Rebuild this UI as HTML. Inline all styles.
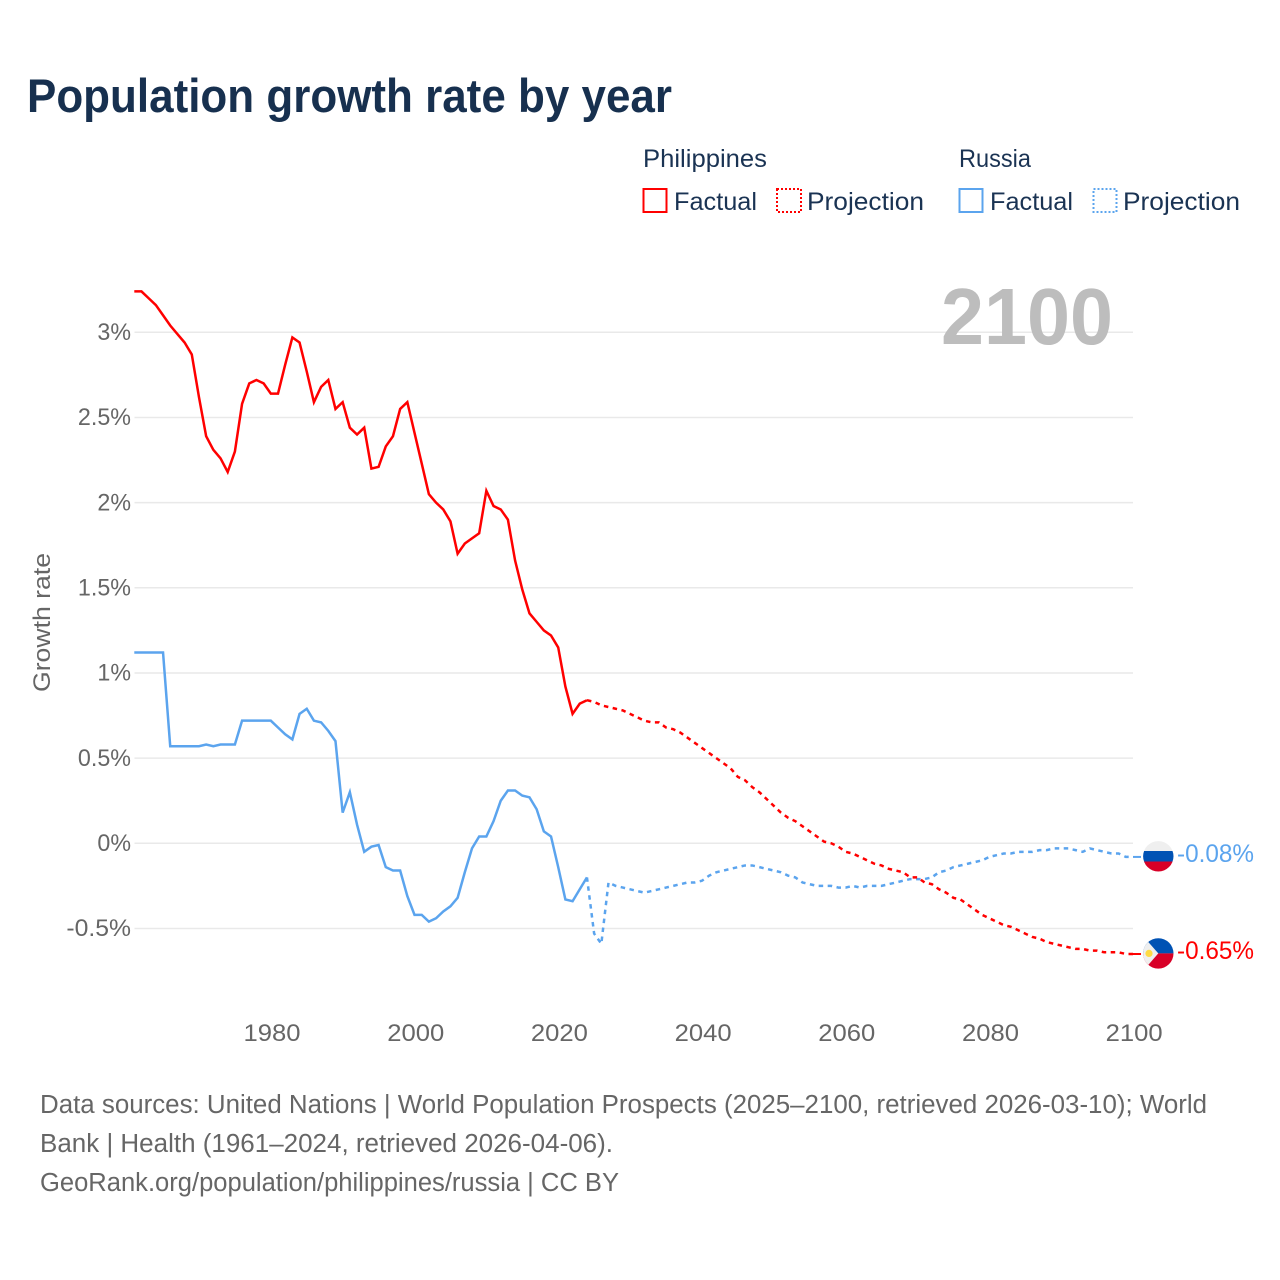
<!DOCTYPE html>
<html lang="en">
<head>
<meta charset="utf-8">
<title>Population growth rate by year</title>
<style>
html,body{margin:0;padding:0;background:#fff}
svg{display:block}
text{font-family:"Liberation Sans",sans-serif}
</style>
</head>
<body>
<svg id="chart" xmlns="http://www.w3.org/2000/svg" width="1280" height="1280" viewBox="0 0 1280 1280">
  <rect x="0" y="0" width="1280" height="1280" fill="#ffffff"/>
  <text x="27" y="112" font-size="47" font-weight="700" fill="#17304f" textLength="645" lengthAdjust="spacingAndGlyphs">Population growth rate by year</text>

  <g font-size="25" fill="#1a3353">
    <text x="643" y="167" textLength="124" lengthAdjust="spacingAndGlyphs">Philippines</text>
    <text x="959" y="167" textLength="72" lengthAdjust="spacingAndGlyphs">Russia</text>
    <rect x="643.5" y="189" width="23" height="23" fill="none" stroke="#ff0000" stroke-width="2"/>
    <text x="674" y="210" textLength="83" lengthAdjust="spacingAndGlyphs">Factual</text>
    <rect x="777" y="189" width="24" height="23" fill="none" stroke="#ff0000" stroke-width="2" stroke-dasharray="2 2"/>
    <text x="807" y="210" textLength="117" lengthAdjust="spacingAndGlyphs">Projection</text>
    <rect x="959.5" y="189" width="23" height="23" fill="none" stroke="#5ba4ee" stroke-width="2"/>
    <text x="990" y="210" textLength="83" lengthAdjust="spacingAndGlyphs">Factual</text>
    <rect x="1093.5" y="189" width="23" height="23" fill="none" stroke="#5ba4ee" stroke-width="2" stroke-dasharray="2 2"/>
    <text x="1123" y="210" textLength="117" lengthAdjust="spacingAndGlyphs">Projection</text>
  </g>

  <g id="grid"></g>
  <text x="941" y="344" font-size="80" font-weight="700" fill="#bdbdbd" textLength="172" lengthAdjust="spacingAndGlyphs">2100</text>
  <g id="yAxis" font-size="24" fill="#666666" text-anchor="end"></g>
  <g id="xAxis" font-size="24" fill="#666666" text-anchor="middle"></g>
  <text transform="translate(50 692) rotate(-90)" font-size="24" fill="#666666" textLength="139" lengthAdjust="spacingAndGlyphs">Growth rate</text>
  <g id="series"></g>

  <g>
    <clipPath id="clipRu"><circle cx="1158.3" cy="856.3" r="15.2"/></clipPath>
    <g clip-path="url(#clipRu)">
      <rect x="1143" y="841" width="31" height="10" fill="#efefef"/>
      <rect x="1143" y="851" width="31" height="10.5" fill="#0052b4"/>
      <rect x="1143" y="861.5" width="31" height="10.5" fill="#d80027"/>
    </g>
  </g>
  <g>
    <clipPath id="clipPh"><circle cx="1158.3" cy="953.4" r="15.2"/></clipPath>
    <g clip-path="url(#clipPh)">
      <rect x="1143" y="938" width="31" height="15.4" fill="#0052b4"/>
      <rect x="1143" y="953.4" width="31" height="16" fill="#d80027"/>
      <polygon points="1143,936 1158.3,953.4 1143,971" fill="#efefef"/>
      <circle cx="1149" cy="953.4" r="3.6" fill="#ffda44"/>
    </g>
  </g>
  <text id="endRu" x="1177" y="862" font-size="25" fill="#5ba4ee" textLength="77" lengthAdjust="spacingAndGlyphs"></text>
  <text id="endPh" x="1177" y="959" font-size="25" fill="#ff0000" textLength="77" lengthAdjust="spacingAndGlyphs"></text>

  <g font-size="25.5" fill="#666666">
    <text x="40" y="1113" textLength="1167" lengthAdjust="spacingAndGlyphs">Data sources: United Nations | World Population Prospects (2025–2100, retrieved 2026-03-10); World</text>
    <text x="40" y="1152" textLength="573" lengthAdjust="spacingAndGlyphs">Bank | Health (1961–2024, retrieved 2026-04-06).</text>
    <text x="40" y="1191" textLength="579" lengthAdjust="spacingAndGlyphs">GeoRank.org/population/philippines/russia | CC BY</text>
  </g>
</svg>
<script>
const factualStartYear = 1961;
const projectionStartYear = 2024;
const yTickValues = [3, 2.5, 2, 1.5, 1, 0.5, 0, -0.5];
const xTickYears = [1980, 2000, 2020, 2040, 2060, 2080, 2100];

const philippinesFactual = [
  3.24,3.24,3.20,3.16,3.10,3.04,2.99,2.94,2.87,2.62,
  2.39,2.31,2.26,2.18,2.30,2.58,2.70,2.72,2.70,2.64,
  2.64,2.81,2.97,2.94,2.77,2.59,2.68,2.72,2.55,2.59,
  2.44,2.40,2.44,2.20,2.21,2.33,2.39,2.55,2.59,2.41,
  2.23,2.05,2.00,1.96,1.89,1.70,1.76,1.79,1.82,2.07,
  1.98,1.96,1.90,1.66,1.49,1.35,1.30,1.25,1.22,1.15,
  0.92,0.76,0.82,0.84
];
const philippinesProjection = [
  0.84,0.83,0.81,0.80,0.79,0.78,0.76,0.74,0.72,0.71,0.71,
  0.68,0.67,0.65,0.62,0.59,0.56,0.53,0.50,0.47,0.44,
  0.39,0.37,0.33,0.30,0.26,0.22,0.18,0.15,0.13,0.10,
  0.07,0.04,0.01,0.00,-0.02,-0.05,-0.06,-0.08,-0.10,-0.12,
  -0.13,-0.15,-0.16,-0.17,-0.20,-0.20,-0.23,-0.24,-0.27,-0.29,
  -0.32,-0.33,-0.36,-0.39,-0.42,-0.44,-0.46,-0.48,-0.49,-0.51,
  -0.53,-0.55,-0.56,-0.58,-0.59,-0.60,-0.61,-0.62,-0.62,-0.63,
  -0.63,-0.64,-0.64,-0.64,-0.65,-0.65
];
const russiaFactual = [
  1.12,1.12,1.12,1.12,1.12,0.57,0.57,0.57,0.57,0.57,
  0.58,0.57,0.58,0.58,0.58,0.72,0.72,0.72,0.72,0.72,
  0.68,0.64,0.61,0.76,0.79,0.72,0.71,0.66,0.60,0.18,
  0.30,0.11,-0.05,-0.02,-0.01,-0.14,-0.16,-0.16,-0.31,-0.42,
  -0.42,-0.46,-0.44,-0.40,-0.37,-0.32,-0.17,-0.03,0.04,0.04,
  0.13,0.25,0.31,0.31,0.28,0.27,0.20,0.07,0.04,-0.14,
  -0.33,-0.34,-0.27,-0.20
];
const russiaProjection = [
  -0.20,-0.53,-0.59,-0.23,-0.25,-0.26,-0.27,-0.28,-0.29,-0.28,-0.27,
  -0.26,-0.25,-0.24,-0.23,-0.23,-0.22,-0.19,-0.17,-0.16,-0.15,
  -0.14,-0.13,-0.13,-0.14,-0.15,-0.16,-0.17,-0.19,-0.20,-0.23,
  -0.24,-0.25,-0.25,-0.25,-0.26,-0.26,-0.25,-0.26,-0.25,-0.25,
  -0.25,-0.24,-0.23,-0.22,-0.21,-0.21,-0.21,-0.20,-0.17,-0.16,
  -0.14,-0.13,-0.12,-0.11,-0.10,-0.08,-0.07,-0.06,-0.06,-0.05,
  -0.05,-0.05,-0.04,-0.04,-0.03,-0.03,-0.03,-0.04,-0.05,-0.03,
  -0.04,-0.05,-0.06,-0.06,-0.08,-0.08
];

const SVG_NS = 'http://www.w3.org/2000/svg';
const xScale = function (year) { return 134.3 + (year - 1961) * (1133 - 134.3) / (2100 - 1961); };
const yScale = function (value) { return 843.3 - value * 170.33; };

function linePoints(values, startYear) {
  return values.map(function (v, i) {
    return xScale(startYear + i).toFixed(2) + ',' + yScale(v).toFixed(2);
  }).join(' ');
}
function percent(v) { return v + '%'; }

const gridGroup = document.getElementById('grid');
const yGroup = document.getElementById('yAxis');
yTickValues.forEach(function (v) {
  const line = document.createElementNS(SVG_NS, 'line');
  
  
  line.setAttribute('x1', 134.5);
  line.setAttribute('x2', 1133);
  line.setAttribute('y1', yScale(v));
  line.setAttribute('y2', yScale(v));
  line.setAttribute('stroke', '#e9e9e9');
  line.setAttribute('stroke-width', 1.5);
  gridGroup.appendChild(line);

  const label = document.createElementNS(SVG_NS, 'text');
  
  
  label.setAttribute('x', 131);
  label.setAttribute('y', yScale(v) + 7.7);
  label.textContent = percent(v);
  yGroup.appendChild(label);
  const fitRatio = v < 0 ? 1.03 : 0.97;
  label.setAttribute('textLength', (label.getComputedTextLength() * fitRatio).toFixed(1));
  label.setAttribute('lengthAdjust', 'spacingAndGlyphs');
});

const xGroup = document.getElementById('xAxis');
xTickYears.forEach(function (year) {
  const label = document.createElementNS(SVG_NS, 'text');
  
  
  label.setAttribute('x', xScale(year) + 1.2);
  label.setAttribute('y', 1041);
  label.setAttribute('textLength', 57);
  label.setAttribute('lengthAdjust', 'spacingAndGlyphs');
  label.textContent = year;
  xGroup.appendChild(label);
});

const seriesGroup = document.getElementById('series');
function drawLine(name, values, startYear, color, dashed) {
  const poly = document.createElementNS(SVG_NS, 'polyline');
  
  
  poly.setAttribute('points', linePoints(values, startYear));
  poly.setAttribute('fill', 'none');
  poly.setAttribute('stroke', color);
  poly.setAttribute('stroke-width', 2.5);
  poly.setAttribute('stroke-linejoin', 'miter');
  if (dashed) { poly.setAttribute('stroke-dasharray', '4.5 4.5'); }
  seriesGroup.appendChild(poly);
}
drawLine('line-russia-factual', russiaFactual, factualStartYear, '#5ba4ee', false);
drawLine('line-russia-projection', russiaProjection, projectionStartYear, '#5ba4ee', true);
drawLine('line-philippines-factual', philippinesFactual, factualStartYear, '#ff0000', false);
drawLine('line-philippines-projection', philippinesProjection, projectionStartYear, '#ff0000', true);

function drawConnector(name, value, color) {
  const c = document.createElementNS(SVG_NS, 'line');
  
  
  c.setAttribute('x1', xScale(2100));
  c.setAttribute('x2', xScale(2100) + 8);
  c.setAttribute('y1', yScale(value));
  c.setAttribute('y2', yScale(value));
  c.setAttribute('stroke', color);
  c.setAttribute('stroke-width', 2);
  seriesGroup.appendChild(c);
}
const lastRussia = russiaProjection[russiaProjection.length - 1];
const lastPhilippines = philippinesProjection[philippinesProjection.length - 1];
drawConnector('end-connector-russia', lastRussia, '#5ba4ee');
drawConnector('end-connector-philippines', lastPhilippines, '#ff0000');
document.getElementById('endRu').textContent = percent(lastRussia.toFixed(2));
document.getElementById('endPh').textContent = percent(lastPhilippines.toFixed(2));
</script>
</body>
</html>
